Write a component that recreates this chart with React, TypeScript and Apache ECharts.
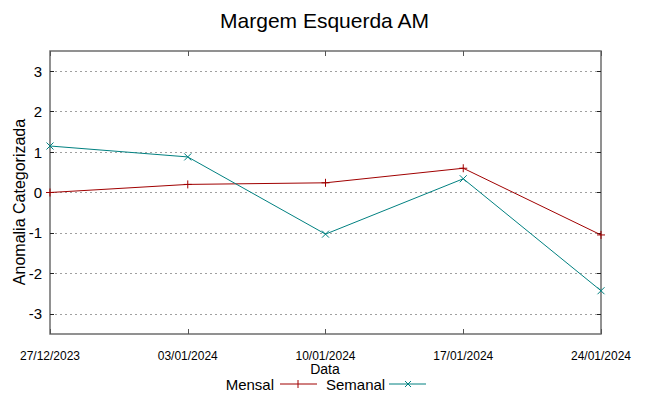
import React, { useEffect, useRef } from "react";
import * as echarts from "echarts";

const title = "Margem Esquerda AM";
const dates = ["27/12/2023", "03/01/2024", "10/01/2024", "17/01/2024", "24/01/2024"];
const mensal = [0.0, 0.2, 0.24, 0.6, -1.05];
const semanal = [1.15, 0.88, -1.03, 0.34, -2.43];
const yTicks = [-3, -2, -1, 0, 1, 2, 3];
const xName = "Data";
const yName = "Anomalia Categorizada";
const seriesNames = ["Mensal", "Semanal"];
const colors = ["#a00000", "#008080"];

const PLUS = "path://M0,5L10,5M5,0L5,10";
const CROSS = "path://M0,0L10,10M10,0L0,10";

export default function App() {
  const ref = useRef<HTMLDivElement>(null);
  useEffect(() => {
    if (!ref.current) return;
    const chart = echarts.init(ref.current, null, { renderer: "svg" });
    const font = "'Liberation Sans', Arial, sans-serif";
    const yCommon = {
      type: "value" as const,
      min: -3.5,
      max: 3.5,
      axisLine: { show: false },
    };
    const xCommon = {
      type: "category" as const,
      data: dates,
      boundaryGap: false,
      axisLine: { show: false, onZero: false },
    };
    chart.setOption({
      animation: false,
      backgroundColor: "#ffffff",
      textStyle: { fontFamily: font },
      title: {
        text: title,
        left: "center",
        top: 5,
        textStyle: { fontFamily: font, fontSize: 21, fontWeight: "normal", color: "#000" },
      },
      grid: {
        left: 50,
        right: 48,
        top: 51,
        bottom: 62,
        show: true,
        borderColor: "#6e6e6e",
        borderWidth: 1.5,
        backgroundColor: "transparent",
      },
      xAxis: [
        {
          ...xCommon,
          position: "bottom",
          axisTick: { show: true, inside: true, length: 5, lineStyle: { color: "#555" } },
          axisLabel: {
            show: true,
            margin: 15,
            fontFamily: font,
            fontSize: 12,
            lineHeight: 13,
            color: "#000",
          },
          splitLine: { show: false },
        },
        {
          ...xCommon,
          position: "top",
          axisTick: { show: true, inside: true, length: 5, lineStyle: { color: "#555" } },
          axisLabel: { show: false },
          splitLine: { show: false },
        },
      ],
      yAxis: [
        {
          ...yCommon,
          position: "left",
          axisTick: { show: true, inside: true, length: 4, lineStyle: { color: "#222" }, customValues: yTicks },
          axisLabel: {
            show: true,
            margin: 8,
            fontFamily: font,
            fontSize: 15,
            color: "#000",
            customValues: yTicks,
          },
          splitLine: { show: true, lineStyle: { color: "#a0a0a0", type: [2, 3], width: 1 } },
        },
        {
          ...yCommon,
          position: "right",
          axisTick: { show: true, inside: true, length: 4, lineStyle: { color: "#222" }, customValues: yTicks },
          axisLabel: { show: false, customValues: yTicks },
          splitLine: { show: false },
        },
      ],
      series: [
        {
          name: seriesNames[0],
          type: "line",
          data: mensal,
          xAxisIndex: 0,
          yAxisIndex: 0,
          symbol: PLUS,
          symbolSize: 8,
          showSymbol: true,
          lineStyle: { color: colors[0], width: 1 },
          itemStyle: { color: "none", borderColor: colors[0], borderWidth: 1 },
          z: 3,
        },
        {
          name: seriesNames[1],
          type: "line",
          data: semanal,
          xAxisIndex: 0,
          yAxisIndex: 0,
          symbol: CROSS,
          symbolSize: 7,
          showSymbol: true,
          lineStyle: { color: colors[1], width: 1 },
          itemStyle: { color: "none", borderColor: colors[1], borderWidth: 1 },
          z: 4,
        },
      ],
      graphic: [
        {
          type: "text",
          x: 325,
          y: 369,
          style: { text: xName, fontFamily: font, fontSize: 14, lineHeight: 14, fill: "#000", align: "center", verticalAlign: "middle" },
        },
        {
          type: "text",
          x: 19,
          y: 202,
          rotation: Math.PI / 2,
          style: {
            text: yName,
            fontFamily: font,
            fontSize: 16,
            fill: "#000",
            align: "center",
            verticalAlign: "middle",
          },
        },
        {
          type: "text",
          x: 274,
          y: 384,
          style: {
            text: seriesNames[0],
            fontFamily: font,
            fontSize: 15,
            lineHeight: 15,
            fill: "#000",
            align: "right",
            verticalAlign: "middle",
          },
        },
        { type: "line", shape: { x1: 280, y1: 384, x2: 317, y2: 384 }, style: { stroke: colors[0], lineWidth: 1 } },
        { type: "line", shape: { x1: 298, y1: 380, x2: 298, y2: 388 }, style: { stroke: colors[0], lineWidth: 1 } },
        {
          type: "text",
          x: 326,
          y: 384,
          style: {
            text: seriesNames[1],
            fontFamily: font,
            fontSize: 15,
            lineHeight: 15,
            fill: "#000",
            align: "left",
            verticalAlign: "middle",
          },
        },
        { type: "line", shape: { x1: 389, y1: 384, x2: 426, y2: 384 }, style: { stroke: colors[1], lineWidth: 1 } },
        { type: "line", shape: { x1: 405, y1: 381, x2: 411, y2: 387 }, style: { stroke: colors[1], lineWidth: 1 } },
        { type: "line", shape: { x1: 411, y1: 381, x2: 405, y2: 387 }, style: { stroke: colors[1], lineWidth: 1 } },
      ],
    });
    return () => chart.dispose();
  }, []);
  return <div ref={ref} style={{ width: 649, height: 396, position: "absolute", left: 0, top: 0 }} />;
}
